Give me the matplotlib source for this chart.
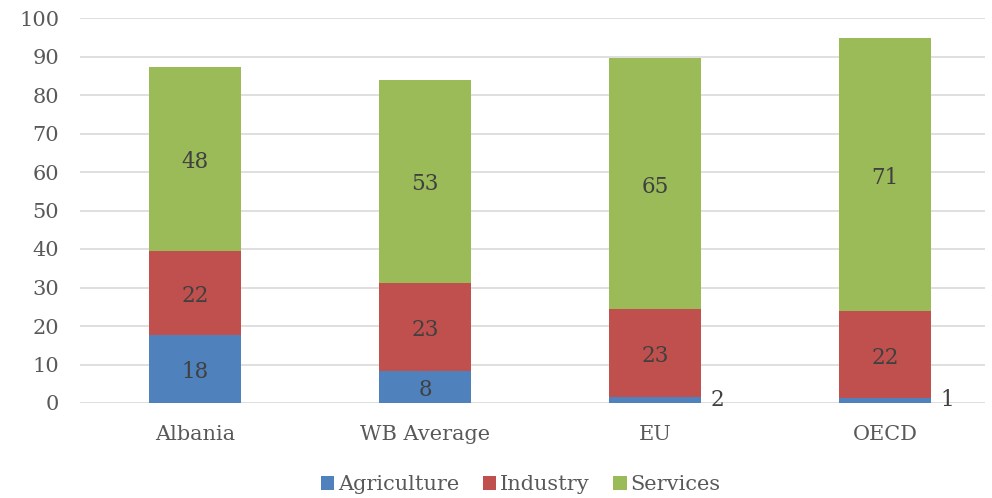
import matplotlib
matplotlib.use("Agg")
from matplotlib import pyplot as plt
import numpy as np

categories = ["Albania", "WB Average", "EU", "OECD"]
agriculture = [17.7, 8.3, 1.5, 1.3]
industry = [21.8, 22.9, 23.0, 22.5]
services = [47.7, 52.8, 65.0, 71.0]
agri_labels = ["18", "8", "2", "1"]
ind_labels = ["22", "23", "23", "22"]
serv_labels = ["48", "53", "65", "71"]

AGRI_C, IND_C, SERV_C = "#4F81BD", "#C0504D", "#9BBB59"
TXT_C = "#595959"

plt.rcParams["font.family"] = ["DejaVu Serif"]

fig = plt.figure(figsize=(9.92, 4.98), dpi=100)
ax = fig.add_axes([80 / 992, 1 - 403 / 498, 905 / 992, 385 / 498])

x = np.arange(len(categories))
w = 0.4
agri = np.array(agriculture)
ind = np.array(industry)
serv = np.array(services)

ax.bar(x, agri, w, color=AGRI_C, label="Agriculture", zorder=3)
ax.bar(x, ind, w, bottom=agri, color=IND_C, label="Industry", zorder=3)
ax.bar(x, serv, w, bottom=agri + ind, color=SERV_C, label="Services", zorder=3)

lab_kw = dict(fontsize=15.5, color="#404040", zorder=4)
for i in range(len(x)):
    if agri[i] >= 5:
        ax.text(x[i], agri[i] / 2 - 0.8, agri_labels[i], ha="center", va="center", **lab_kw)
    else:
        ax.text(x[i] + w / 2 + 0.04, agri[i] / 2, agri_labels[i], ha="left",
                va="center", **lab_kw)
    ax.text(x[i], agri[i] + ind[i] / 2 - 0.8, ind_labels[i], ha="center",
            va="center", **lab_kw)
    ax.text(x[i], agri[i] + ind[i] + serv[i] / 2 - 0.8, serv_labels[i], ha="center",
            va="center", **lab_kw)

ax.set_xlim(-0.5, -0.5 + 905 / 230)
ax.set_ylim(0, 100)
ax.set_yticks(range(0, 101, 10))
ax.set_xticks(x)
ax.set_xticklabels(categories)
ax.yaxis.grid(True, color="#D9D9D9", linewidth=1.2, zorder=0)
ax.set_axisbelow(True)
for s in ax.spines.values():
    s.set_visible(False)
ax.tick_params(axis="both", length=0, labelsize=15, colors=TXT_C)
ax.tick_params(axis="y", pad=15)
ax.tick_params(axis="x", pad=16)

leg = fig.legend(loc="lower center", bbox_to_anchor=(0.525, -0.03), ncol=3,
                 frameon=False, fontsize=15, handlelength=0.65, handleheight=0.65,
                 handletextpad=0.2, columnspacing=1.1)
for t in leg.get_texts():
    t.set_color(TXT_C)

fig.savefig("out.png", dpi=100)
